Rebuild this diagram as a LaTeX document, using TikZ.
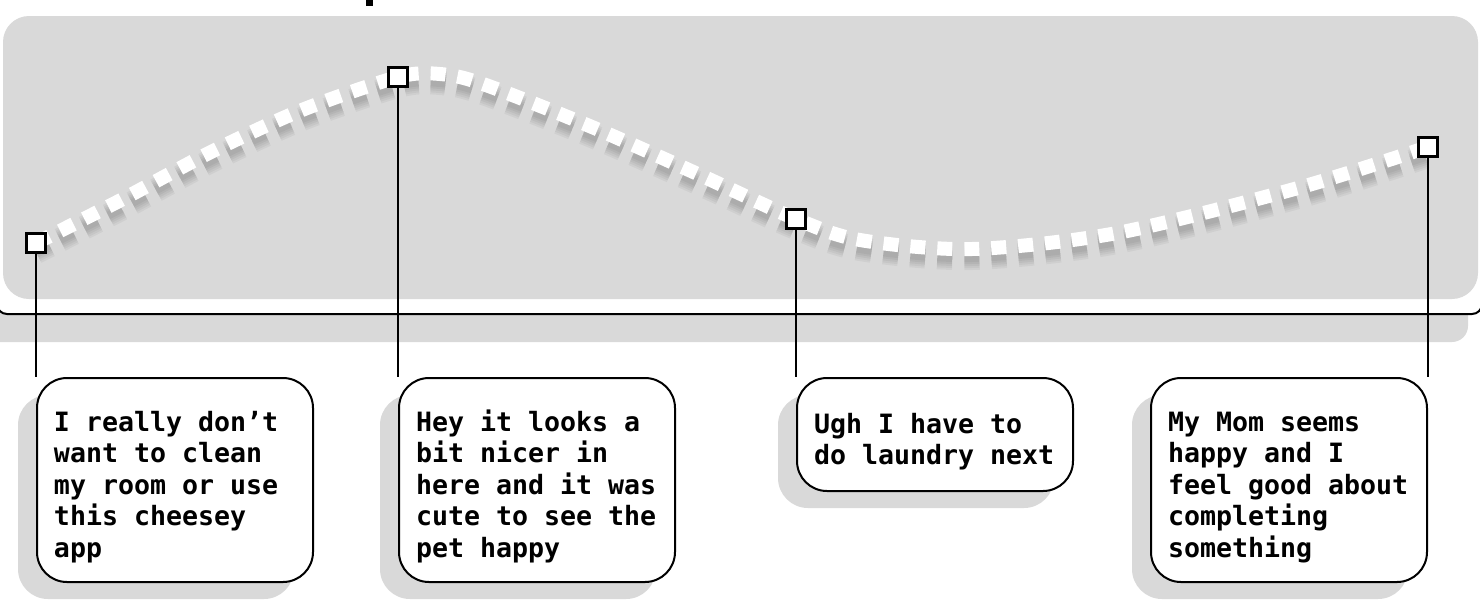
\documentclass[tikz,border=0pt]{standalone}
\usepackage{fontspec}
\setmonofont{DejaVu Sans Mono}
\usetikzlibrary{shadows}

\begin{document}
\begin{tikzpicture}[
    x=0.5pt, y=-0.5pt,
    panel/.style={fill=black!15},
    marker/.style={rectangle, draw=black, fill=white, line width=1.2pt,
      minimum size=9.5pt, inner sep=0pt},
    note/.style={rectangle, rounded corners=15pt, draw=black, fill=white,
      line width=1pt, text width=121pt, inner xsep=8.5pt, align=left,
      minimum height=102pt,
      font=\ttfamily\bfseries\fontsize{13.3}{15.75}\selectfont,
      execute at begin node={\spaceskip=8pt\relax\xspaceskip=8pt\relax
        \rule{0pt}{17pt}},
      drop shadow={shadow xshift=-9.5pt, shadow yshift=-8.5pt,
        fill=black!15, opacity=1}},
    link/.style={line width=1.2pt},
    mood/.style={line width=7pt, dash pattern=on 7.5pt off 6pt},
  ]
  \useasboundingbox (0,0) rectangle (1480,607);
  \clip (0,0) rectangle (1480,607);

  % Frame
  \fill[panel, rounded corners=8pt] (-40,-40) rectangle (1468,342);
  \draw[fill=white, line width=1pt, rounded corners=5pt]
    (-3,-40) rectangle (1482,314);
  \fill[panel, rounded corners=13pt] (3,16) rectangle (1478,299);
  \fill (366,0) rectangle (373,6);

  % Mood curve
  \def\moodpts{(36,243) (121,200) (211,152) (302,110) (398,77) (440,74)
    (483,84) (592,127) (700,175) (796,219) (860,240) (972,249)
    (1117,233) (1298,188) (1428,147)}
  \begin{scope}[yshift=-4.5pt]
    \foreach \w in {12,10,8,6,4}
      \draw[mood, black, opacity=0.045, line width=\w pt]
        plot[smooth] coordinates {\moodpts};
  \end{scope}
  \draw[mood, white] plot[smooth] coordinates {\moodpts};

  % Markers
  \node[marker] (s1) at (36,243) {};
  \node[marker] (s2) at (398,77) {};
  \node[marker] (s3) at (796,219) {};
  \node[marker] (s4) at (1428,147) {};

  % Notes
  \node[note, anchor=north west] (n1) at (36,377)
    {I really don’t\\want to clean\\my room or use\\this cheesey\\app};
  \node[note, anchor=north west] (n2) at (398,377)
    {Hey it looks a\\bit nicer in\\here and it was\\cute to see the\\pet happy};
  \node[note, anchor=north west, minimum height=56.5pt] (n3) at (796,377)
    {Ugh I have to\\do laundry next};
  \node[note, anchor=north east] (n4) at (1428,377)
    {My Mom seems\\happy and I\\feel good about\\completing\\something};

  % Links
  \draw[link] (s1.south) -- (n1.north west);
  \draw[link] (s2.south) -- (n2.north west);
  \draw[link] (s3.south) -- (n3.north west);
  \draw[link] (s4.south) -- (n4.north east);
\end{tikzpicture}
\end{document}
